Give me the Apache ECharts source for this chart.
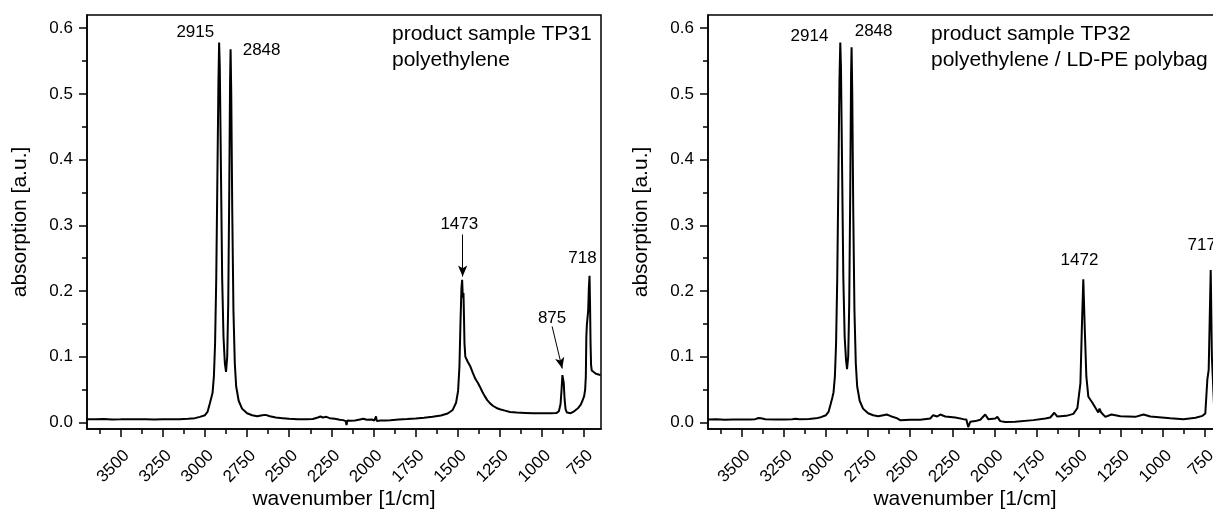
<!DOCTYPE html>
<html>
<head>
<meta charset="utf-8">
<script src="https://cdn.jsdelivr.net/npm/echarts@6/dist/echarts.min.js"></script>
<style>
html,body{margin:0;padding:0;background:#fff;}
#chart{width:1213px;height:512px;}
</style>
</head>
<body>
<div id="chart"></div>
<script>
// ---------- data ----------
const xMajorTicks = [3500,3250,3000,2750,2500,2250,2000,1750,1500,1250,1000,750];
const xMinorTicks = [3625,3375,3125,2875,2625,2375,2125,1875,1625,1375,1125,875];
const yMajorTicks = [0,0.1,0.2,0.3,0.4,0.5,0.6];
const yMinorTicks = [0.05,0.15,0.25,0.35,0.45,0.55];

const titleTP31 = 'product sample TP31\npolyethylene';
const titleTP32 = 'product sample TP32\npolyethylene / LD-PE polybag';

// spectrum TP31: [wavenumber, absorption]
const spectrumTP31 = [
[3700,0.005],[3650,0.0048],[3600,0.0052],[3550,0.0046],[3500,0.0047],[3450,0.0049],[3400,0.0047],[3350,0.0048],
[3300,0.0046],[3250,0.0048],[3200,0.0047],[3150,0.005],[3100,0.0055],[3060,0.0065],[3030,0.0085],[3000,0.011],
[2985,0.016],[2972,0.028],[2962,0.038],[2955,0.045],[2947,0.07],[2940,0.12],[2933,0.22],[2926,0.38],[2920,0.52],
[2916,0.578],[2912,0.54],[2905,0.38],[2898,0.22],[2890,0.13],[2882,0.09],[2875,0.077],[2868,0.1],[2862,0.18],
[2856,0.35],[2851,0.52],[2848,0.568],[2844,0.5],[2838,0.32],[2831,0.17],[2823,0.09],[2815,0.055],[2800,0.033],
[2780,0.021],[2750,0.014],[2720,0.011],[2690,0.0095],[2660,0.011],[2640,0.0115],[2615,0.0095],[2580,0.0075],
[2540,0.0065],[2500,0.0055],[2450,0.005],[2400,0.0048],[2360,0.0052],[2330,0.0075],[2315,0.009],[2300,0.0075],
[2280,0.0085],[2260,0.0065],[2230,0.0055],[2200,0.004],[2180,0.0035],[2165,0.002],[2160,-0.004],[2155,0.003],
[2140,0.0025],[2110,0.003],[2080,0.0045],[2060,0.0055],[2040,0.004],[2010,0.0045],[1995,0.003],[1985,0.009],
[1980,0.002],[1960,0.003],[1930,0.003],[1900,0.0035],[1850,0.0045],[1800,0.0052],[1750,0.006],[1700,0.0072],
[1650,0.0088],[1600,0.0105],[1560,0.0135],[1530,0.019],[1510,0.03],[1498,0.048],[1490,0.085],[1484,0.15],
[1478,0.205],[1474,0.217],[1470,0.19],[1466,0.197],[1463,0.16],[1460,0.12],[1455,0.1],[1450,0.097],[1440,0.092],
[1425,0.085],[1410,0.075],[1395,0.066],[1380,0.06],[1368,0.054],[1355,0.047],[1340,0.04],[1325,0.034],[1308,0.029],
[1290,0.025],[1270,0.022],[1250,0.02],[1220,0.018],[1190,0.016],[1150,0.015],[1100,0.0145],[1050,0.014],
[1000,0.0138],[950,0.0138],[915,0.0142],[900,0.017],[890,0.028],[884,0.05],[879,0.072],[875,0.074],[871,0.06],
[866,0.035],[860,0.02],[852,0.015],[844,0.0135],[830,0.014],[815,0.016],[800,0.019],[785,0.022],[770,0.027],
[760,0.033],[750,0.04],[744,0.05],[740,0.07],[737,0.13],[734,0.148],[730,0.15],[726,0.17],[722,0.205],[718,0.223],
[715,0.18],[712,0.12],[709,0.088],[705,0.079],[695,0.076],[680,0.074],[665,0.073],[652,0.072]
];

// spectrum TP32: [wavenumber, absorption]
const spectrumTP32 = [
[3700,0.0045],[3650,0.005],[3600,0.0042],[3550,0.0045],[3500,0.0043],[3450,0.0045],[3420,0.005],[3400,0.0068],
[3385,0.0062],[3360,0.005],[3300,0.0045],[3250,0.0043],[3200,0.0048],[3180,0.0055],[3160,0.0048],[3100,0.0052],
[3060,0.0062],[3030,0.008],[3000,0.011],[2985,0.016],[2972,0.028],[2962,0.038],[2955,0.046],[2947,0.07],
[2940,0.12],[2933,0.22],[2926,0.38],[2920,0.52],[2915,0.578],[2911,0.54],[2904,0.38],[2897,0.22],[2889,0.13],
[2881,0.095],[2875,0.081],[2868,0.1],[2862,0.18],[2856,0.35],[2851,0.53],[2848,0.571],[2844,0.5],[2838,0.32],
[2831,0.17],[2823,0.09],[2815,0.055],[2800,0.033],[2780,0.021],[2750,0.014],[2720,0.011],[2690,0.0095],
[2660,0.011],[2640,0.012],[2615,0.0095],[2580,0.0065],[2560,0.0035],[2500,0.004],[2441,0.004],[2381,0.006],
[2364,0.011],[2340,0.009],[2322,0.012],[2292,0.009],[2233,0.0075],[2185,0.005],[2167,0.0045],[2156,-0.007],
[2144,0.001],[2114,0.002],[2084,0.004],[2055,0.012],[2037,0.005],[1995,0.006],[1983,0.0085],[1966,0.002],
[1936,0.0005],[1877,0.001],[1770,0.0035],[1698,0.006],[1669,0.0075],[1645,0.0147],[1627,0.009],[1574,0.01],
[1532,0.013],[1508,0.022],[1490,0.06],[1482,0.14],[1473,0.218],[1464,0.14],[1455,0.07],[1443,0.039],[1419,0.03],
[1396,0.02],[1384,0.015],[1377,0.021],[1367,0.015],[1342,0.0085],[1306,0.012],[1253,0.0095],[1164,0.0085],
[1116,0.012],[1075,0.009],[956,0.0065],[879,0.005],[807,0.007],[766,0.01],[749,0.0137],[737,0.065],[729,0.08],
[717,0.232],[710,0.1],[698,0.03],[690,0.015],[680,0.012]
];

// peak annotations
const peaksTP31 = [[2915,0.578],[2848,0.568],[1473,0.217],[875,0.074],[718,0.223]];
const peakLabelsTP31 = ['2915','2848','1473','875','718'];
const peaksTP32 = [[2914,0.578],[2848,0.571],[1472,0.218],[717,0.232]];
const peakLabelsTP32 = ['2914','2848','1472','717'];
// arrows [from, to] in data coordinates
const arrowsTP31 = [
  [[1471,0.286],[1471,0.222]],
  [[940,0.146],[880,0.082]]
];

// ---------- styling ----------
const FONT = '"Liberation Sans", Arial, sans-serif';
const offsetsTP31 = [[-24,-10],[31,1],[-3,-56],[-11,-55],[-7,-18]];
const offsetsTP32 = [[-31,-6],[22,-16],[-4,-19],[-9,-25]];

const grids = [
  {left:87, top:15, width:514, height:414},
  {left:708, top:15, width:514, height:414}
];

function xAxesFor(gi){
  return [
    {
      type:'value', gridIndex:gi, min:650, max:3700, inverse:true,
      name:'wavenumber [1/cm]', nameLocation:'middle', nameGap:60, nameMoveOverlap:false,
      nameTextStyle:{fontFamily:FONT, fontSize:21, color:'#000'},
      axisLine:{show:true, onZero:false, lineStyle:{color:'#000', width:1.5}},
      axisTick:{show:true, inside:false, length:8, customValues:xMajorTicks, lineStyle:{color:'#000', width:1.5}},
      axisLabel:{show:true, customValues:xMajorTicks, rotate:45, margin:18, verticalAlign:'top',
                 fontFamily:FONT, fontSize:17, color:'#000',
                 hideOverlap:false, formatter:v=>String(Math.round(v))},
      splitLine:{show:false}
    },
    {
      type:'value', gridIndex:gi, min:650, max:3700, inverse:true, position:'bottom',
      axisLine:{show:false, onZero:false},
      axisTick:{show:true, inside:false, length:5, customValues:xMinorTicks, lineStyle:{color:'#000', width:1.5}},
      axisLabel:{show:false},
      splitLine:{show:false}
    }
  ];
}
function yAxesFor(gi){
  return [
    {
      type:'value', gridIndex:gi, min:-0.01, max:0.62,
      name:'absorption [a.u.]', nameLocation:'middle', nameGap:56, nameRotate:90, nameMoveOverlap:false,
      nameTextStyle:{fontFamily:FONT, fontSize:21, color:'#000'},
      axisLine:{show:true, onZero:false, lineStyle:{color:'#000', width:1.5}},
      axisTick:{show:true, inside:false, length:8, customValues:yMajorTicks, lineStyle:{color:'#000', width:1.5}},
      axisLabel:{show:true, customValues:yMajorTicks, margin:14, fontFamily:FONT, fontSize:17, color:'#000',
                 formatter:v=>v.toFixed(1)},
      splitLine:{show:false}
    },
    {
      type:'value', gridIndex:gi, min:-0.01, max:0.62, position:'left',
      axisLine:{show:false, onZero:false},
      axisTick:{show:true, inside:false, length:5, customValues:yMinorTicks, lineStyle:{color:'#000', width:1.5}},
      axisLabel:{show:false},
      splitLine:{show:false}
    }
  ];
}

function peakMarks(pos, labels, offs){
  return {
    silent:true, animation:false,
    symbol:'circle', symbolSize:1,
    itemStyle:{color:'rgba(0,0,0,0)'},
    label:{show:true, color:'#000', fontFamily:FONT, fontSize:17, position:'inside'},
    data: pos.map((p,i)=>({coord:p, value:labels[i],
      label:{offset:offs[i], formatter:labels[i]}}))
  };
}

function spectrumSeries(data, xi, yi, marks, arrows){
  const s = {
    type:'line', data:data, xAxisIndex:xi, yAxisIndex:yi,
    showSymbol:false, symbol:'none', smooth:false, animation:false, silent:true,
    lineStyle:{color:'#000', width:2}, z:3,
    markPoint:marks
  };
  if(arrows){
    s.markLine = {
      silent:true, animation:false, symbol:['none','arrow'], symbolSize:[7,11],
      label:{show:false},
      lineStyle:{color:'#000', width:1, type:'solid'},
      itemStyle:{color:'#000'},
      data: arrows.map(a=>[{coord:a[0]},{coord:a[1]}])
    };
  }
  return s;
}

const option = {
  backgroundColor:'#fff',
  animation:false,
  title:[
    {text:titleTP31, left:392, top:21, padding:0,
     textStyle:{fontFamily:FONT, fontSize:21, fontWeight:'normal', color:'#000', lineHeight:26}},
    {text:titleTP32, left:931, top:21, padding:0,
     textStyle:{fontFamily:FONT, fontSize:21, fontWeight:'normal', color:'#000', lineHeight:26}}
  ],
  grid: grids.map(g=>Object.assign({show:true, borderColor:'#000', borderWidth:1.5, backgroundColor:'transparent',
                                    containLabel:false, outerBoundsMode:'none'}, g)),
  xAxis: xAxesFor(0).concat(xAxesFor(1)),
  yAxis: yAxesFor(0).concat(yAxesFor(1)),
  series:[
    spectrumSeries(spectrumTP31, 0, 0, peakMarks(peaksTP31, peakLabelsTP31, offsetsTP31), arrowsTP31),
    spectrumSeries(spectrumTP32, 2, 2, peakMarks(peaksTP32, peakLabelsTP32, offsetsTP32), null)
  ]
};

const chart = echarts.init(document.getElementById('chart'), null, {renderer:'canvas'});
chart.setOption(option);
</script>
</body>
</html>
